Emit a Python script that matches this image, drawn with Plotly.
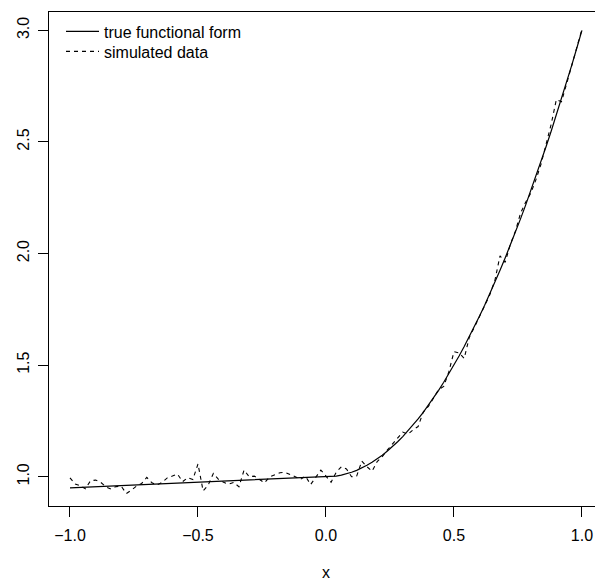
import plotly.graph_objects as go

x_vals = [-1.00, -0.98, -0.96, -0.94, -0.92, -0.90, -0.88, -0.86, -0.84, -0.82,
          -0.80, -0.78, -0.76, -0.74, -0.72, -0.70, -0.68, -0.66, -0.64, -0.62,
          -0.60, -0.58, -0.56, -0.54, -0.52, -0.50, -0.48, -0.46, -0.44, -0.42,
          -0.40, -0.38, -0.36, -0.34, -0.32, -0.30, -0.28, -0.26, -0.24, -0.22,
          -0.20, -0.18, -0.16, -0.14, -0.12, -0.10, -0.08, -0.06, -0.04, -0.02,
          0.00, 0.02, 0.04, 0.06, 0.08, 0.10, 0.12, 0.14, 0.16, 0.18,
          0.20, 0.22, 0.24, 0.26, 0.28, 0.30, 0.32, 0.34, 0.36, 0.38,
          0.40, 0.42, 0.44, 0.46, 0.48, 0.50, 0.52, 0.54, 0.56, 0.58,
          0.60, 0.62, 0.64, 0.66, 0.68, 0.70, 0.72, 0.74, 0.76, 0.78,
          0.80, 0.82, 0.84, 0.86, 0.88, 0.90, 0.92, 0.94, 0.96, 0.98, 1.00]

true_form = [0.950, 0.951, 0.952, 0.953, 0.954, 0.955, 0.956, 0.957, 0.958, 0.959,
             0.960, 0.961, 0.962, 0.963, 0.964, 0.965, 0.966, 0.967, 0.968, 0.969,
             0.970, 0.971, 0.972, 0.973, 0.974, 0.975, 0.976, 0.977, 0.978, 0.979,
             0.980, 0.981, 0.982, 0.983, 0.984, 0.985, 0.986, 0.987, 0.988, 0.989,
             0.990, 0.991, 0.992, 0.993, 0.994, 0.995, 0.996, 0.997, 0.998, 0.999,
             1.000, 1.0008, 1.0032, 1.0072, 1.0128, 1.0200, 1.0288, 1.0392, 1.0512, 1.0648,
             1.0800, 1.0968, 1.1152, 1.1352, 1.1568, 1.1800, 1.2048, 1.2312, 1.2592, 1.2888,
             1.3200, 1.3528, 1.3872, 1.4232, 1.4608, 1.5000, 1.5408, 1.5832, 1.6272, 1.6728,
             1.7200, 1.7688, 1.8192, 1.8712, 1.9248, 1.9800, 2.0368, 2.0952, 2.1552, 2.2168,
             2.2800, 2.3448, 2.4112, 2.4792, 2.5488, 2.6200, 2.6928, 2.7672, 2.8432, 2.9208, 3.000]

simulated = [0.995, 0.967, 0.960, 0.946, 0.982, 0.985, 0.975, 0.955, 0.945, 0.956,
             0.958, 0.925, 0.940, 0.958, 0.970, 0.997, 0.973, 0.963, 0.975, 0.995,
             1.003, 1.012, 0.978, 0.996, 0.988, 1.057, 0.937, 0.963, 1.015, 0.988,
             0.975, 0.967, 0.975, 0.955, 1.030, 1.000, 1.003, 0.988, 0.973, 1.000,
             1.010, 1.018, 1.020, 1.011, 1.000, 0.988, 1.003, 0.965, 1.000, 1.030,
             1.003, 0.975, 1.020, 1.045, 1.035, 1.000, 1.003, 1.070, 1.045, 1.025,
             1.068, 1.090, 1.120, 1.148, 1.175, 1.200, 1.190, 1.210, 1.225, 1.290,
             1.315, 1.352, 1.390, 1.405, 1.470, 1.560, 1.555, 1.530, 1.625, 1.670,
             1.720, 1.770, 1.815, 1.880, 1.990, 1.960, 2.040, 2.100, 2.180, 2.230,
             2.270, 2.330, 2.400, 2.490, 2.580, 2.690, 2.680, 2.760, 2.840, 2.920, 3.005]

x_ticks = [-1.0, -0.5, 0.0, 0.5, 1.0]
x_tick_labels = ["\u22121.0", "\u22120.5", "0.0", "0.5", "1.0"]
y_ticks = [1.0, 1.5, 2.0, 2.5, 3.0]
y_tick_labels = ["1.0", "1.5", "2.0", "2.5", "3.0"]

FONT = "Liberation Sans, Arial, sans-serif"

fig = go.Figure()
fig.add_trace(go.Scatter(x=x_vals, y=true_form, mode="lines", name="true functional form",
                         line=dict(color="black", width=1.2), legend="legend"))
fig.add_trace(go.Scatter(x=x_vals, y=simulated, mode="lines", name="simulated data",
                         line=dict(color="black", width=1.1, dash="4px,4px"), legend="legend2"))

legend_common = dict(xanchor="left", yanchor="top", bgcolor="rgba(0,0,0,0)",
                     font=dict(size=16, family=FONT, color="black"), itemwidth=33)

fig.update_layout(
    width=595, height=584,
    margin=dict(l=49, r=0, t=12, b=78),
    paper_bgcolor="white", plot_bgcolor="white",
    font=dict(family=FONT, size=16, color="black"),
    showlegend=True,
    legend=dict(x=0.022, y=0.995, **legend_common),
    legend2=dict(x=0.022, y=0.995 - 20 / 494, **legend_common),
    xaxis=dict(range=[-1.082, 1.051], tickvals=x_ticks, ticktext=x_tick_labels,
               showgrid=False, zeroline=False, showline=True, linecolor="black",
               linewidth=1, mirror=True, ticks="outside", ticklen=10, tickwidth=1,
               tickcolor="black", tickfont=dict(size=16), ticklabelstandoff=5),
    yaxis=dict(range=[0.869, 3.082], tickvals=y_ticks, ticktext=y_tick_labels,
               showgrid=False, zeroline=False, showline=True, linecolor="black",
               linewidth=1, mirror=False, ticks="outside", ticklen=10, tickwidth=1,
               tickcolor="black", tickangle=-90, tickfont=dict(size=16),
               ticklabelstandoff=3),
)

fig.add_annotation(x=0.0, xref="x", y=-0.135, yref="paper", text="x", showarrow=False,
                   font=dict(size=16, family=FONT), xanchor="center", yanchor="middle")

fig.write_html("out.html")
